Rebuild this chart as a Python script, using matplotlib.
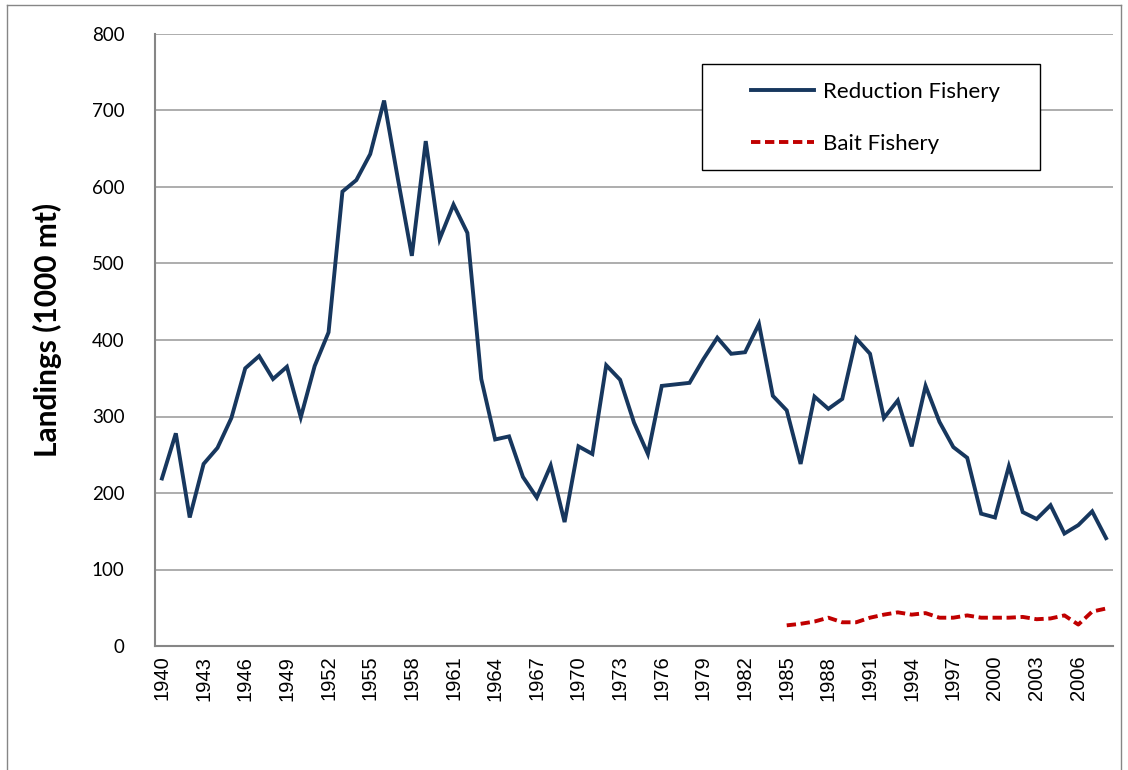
import matplotlib
matplotlib.use("Agg")
import matplotlib.pyplot as plt
from matplotlib.lines import Line2D
from matplotlib.patches import Rectangle

years = list(range(1940, 2009))
reduction = [219, 278, 168, 238, 259, 298, 363, 379, 349, 365,
             299, 366, 410, 594, 609, 643, 713, 610, 510, 660,
             532, 577, 540, 349, 270, 274, 221, 194, 236, 162,
             261, 251, 367, 348, 292, 251, 340, 342, 344, 375,
             403, 382, 384, 421, 327, 308, 238, 326, 310, 323,
             402, 382, 298, 321, 261, 340, 293, 260, 246, 173,
             168, 235, 175, 166, 184, 147, 158, 176, 141]
bait_years = list(range(1985, 2009))
bait = [27, 29, 32, 37, 31, 31, 37, 41, 44, 41, 43, 37, 37, 40, 37,
        37, 37, 38, 35, 36, 40, 28, 45, 49]
xtick_years = list(range(1940, 2009, 3))
yticks = [0, 100, 200, 300, 400, 500, 600, 700, 800]

plt.rcParams['font.family'] = ['Lato', 'DejaVu Sans']

W, H = 1128, 770
fig = plt.figure(figsize=(W / 100, H / 100), dpi=100)
ax = fig.add_axes([155 / W, 1 - 646 / H, (1113 - 155) / W, (646 - 34) / H])

ax.plot(years, reduction, color='#17375E', lw=2.8, solid_joinstyle='miter',
        label='Reduction Fishery')
ax.plot(bait_years, bait, color='#C00000', lw=2.8, linestyle=(0, (2.4, 1.2)),
        label='Bait Fishery')

ax.set_xlim(1939.5, 2008.5)
ax.set_ylim(0, 800)
ax.set_yticks(yticks)
ax.set_yticklabels([str(v) for v in yticks], fontsize=13.5)
ax.set_xticks(xtick_years)
ax.set_xticklabels([str(v) for v in xtick_years], rotation=90, fontsize=14.5,
                   family=['Liberation Sans', 'DejaVu Sans'])
ax.tick_params(axis='y', length=0, pad=22, colors='black')
ax.tick_params(axis='x', length=0, pad=7, colors='black')
ax.yaxis.grid(True, color='#A0A0A0', lw=1.2)
ax.set_axisbelow(True)
for s in ['top', 'right']:
    ax.spines[s].set_visible(False)
for s in ['left', 'bottom']:
    ax.spines[s].set_color('#868686')
    ax.spines[s].set_linewidth(1.5)

ax.set_ylabel('Landings (1000 mt)', fontsize=21.5, fontweight='bold')
ax.yaxis.set_label_coords((62 - 155) / 958, (646 - 330) / 612)

# legend box
box = Rectangle((702 / W, 1 - 170 / H), (1040 - 702) / W, (170 - 64) / H,
                transform=fig.transFigure, facecolor='white',
                edgecolor='black', lw=1.0, zorder=5, clip_on=False)
ax.add_patch(box)
leg = ax.legend(loc='upper left', bbox_to_anchor=(751 / W, 1 - 82 / H),
                bbox_transform=fig.transFigure,
                fontsize=16, frameon=False,
                handlelength=2.85, handletextpad=0.4, labelspacing=1.43,
                borderpad=0, borderaxespad=0)
leg.set_zorder(6)

# outer chart border
for xs, ys in [([7, 7], [770, 5]), ([7, 1121], [5, 5]), ([1121, 1121], [5, 770])]:
    fig.add_artist(Line2D([x / W for x in xs], [1 - y / H for y in ys],
                          transform=fig.transFigure, color='#868686', lw=1))

fig.savefig('out.png', dpi=100)
